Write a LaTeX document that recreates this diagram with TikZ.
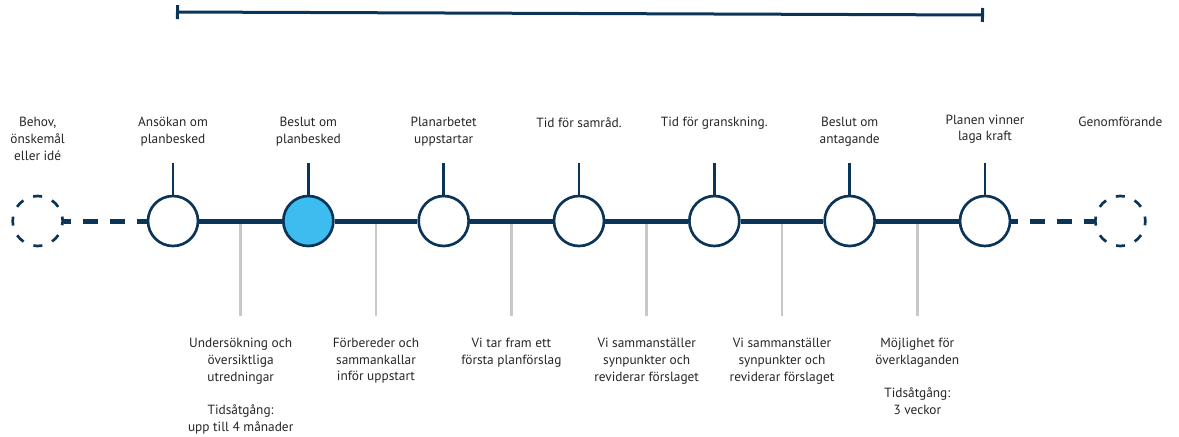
\documentclass[tikz,border=0pt]{standalone}
\usepackage{fontspec}
\setmainfont{PT Sans}
\usetikzlibrary{calc}
\usetikzlibrary{positioning}
\usetikzlibrary{arrows.meta}
\definecolor{navy}{HTML}{0B3558}
\definecolor{skyblue}{HTML}{3DBCEF}
\definecolor{tickgrey}{HTML}{C8C8C8}
\definecolor{textgrey}{HTML}{262626}

\begin{document}
\begin{tikzpicture}[x=0.75pt,y=-0.75pt,node distance=101.5pt,
    milestone/.style={circle,draw=navy,line width=2pt,fill=white,minimum size=37.5pt,inner sep=0pt},
    openend/.style={milestone,dash pattern=on 6.75pt off 7.98pt,dash phase=3.4pt},
    toplabel/.style={anchor=north,align=center,inner sep=0pt,text=textgrey,font=\fontsize{10}{12.5}\selectfont},
    botlabel/.style={toplabel},
    mainline/.style={draw=navy,line width=3.75pt},
    dashline/.style={mainline,dash pattern=on 11.25pt off 9pt,dash phase=6pt},
    tick/.style={draw=navy,line width=2pt},
    greytick/.style={draw=tickgrey,line width=1.9pt},
    span/.style={draw=navy,line width=2.25pt,arrows={Bar[width=10.5pt]-Bar[width=10.5pt]}}]
      \useasboundingbox (0,0) rectangle (1179,436);
      \coordinate (TOP) at (0,117);
      \coordinate (TK) at (0,163);
      \coordinate (GT) at (0,316);
      \coordinate (BOT) at (0,338);
      \coordinate (SL) at (176,12);
      \coordinate (SR) at (984,15);

      % milestones
      \node (AN) [milestone] at (173,221) {};
      \node (DL) [openend,left of=AN] {};
      \node (BP) [milestone,fill=skyblue,right of=AN] {};
      \node (PU) [milestone,right of=BP] {};
      \node (SA) [milestone,right of=PU] {};
      \node (GR) [milestone,right of=SA] {};
      \node (AT) [milestone,right of=GR] {};
      \node (PK) [milestone,right of=AT] {};
      \node (DR) [openend,right of=PK] {};

      \coordinate (M1) at ($(AN)!.5!(BP)$);
      \coordinate (M2) at ($(BP)!.5!(PU)$);
      \coordinate (M3) at ($(PU)!.5!(SA)$);
      \coordinate (M4) at ($(SA)!.5!(GR)$);
      \coordinate (M5) at ($(GR)!.5!(AT)$);
      \coordinate (M6) at ($(AT)!.5!(PK)$);

      \draw[greytick] (M1) -- (M1 |- GT);
      \draw[greytick] (M2) -- (M2 |- GT);
      \draw[greytick] (M3) -- (M3 |- GT);
      \draw[greytick] (M4) -- (M4 |- GT);
      \draw[greytick] (M5) -- (M5 |- GT);
      \draw[greytick] (M6) -- (M6 |- GT);

      \draw[dashline] (DL) -- (AN);
      \draw[mainline] (AN) -- (BP) (BP) -- (PU) (PU) -- (SA) (SA) -- (GR) (GR) -- (AT) (AT) -- (PK);
      \draw[dashline] (PK) -- (DR);

      \draw[tick] (AN) -- (AN |- TK);
      \draw[tick] (BP) -- (BP |- TK);
      \draw[tick] (PU) -- (PU |- TK);
      \draw[tick] (SA) -- (SA |- TK);
      \draw[tick] (GR) -- (GR |- TK);
      \draw[tick] (AT) -- (AT |- TK);
      \draw[tick] (PK) -- (PK |- TK);

      \draw[span] (SL) -- (SR);

      % labels above
      \node (DLL) [toplabel] at (DL |- TOP) {Behov,\\önskemål\\eller idé};
      \node (ANL) [toplabel] at (AN |- TOP) {Ansökan om\\planbesked};
      \node (BPL) [toplabel] at (BP |- TOP) {Beslut om\\planbesked};
      \node (PUL) [toplabel] at (PU |- TOP) {Planarbetet\\uppstartar};
      \node (SAL) [toplabel] at (SA |- TOP) {Tid för samråd.};
      \node (GRL) [toplabel] at (GR |- TOP) {Tid för granskning.};
      \node (ATL) [toplabel] at (AT |- TOP) {Beslut om\\antagande};
      \node (PKL) [toplabel,yshift=2pt] at (PK |- TOP) {Planen vinner\\laga kraft};
      \node (DRL) [toplabel] at (DR |- TOP) {Genomförande};

      % labels below
      \node (M1L) [botlabel] at (M1 |- BOT) {Undersökning och\\översiktliga\\utredningar\\[12.5pt]Tidsåtgång:\\upp till 4 månader};
      \node (M2L) [botlabel] at (M2 |- BOT) {Förbereder och\\sammankallar\\inför uppstart};
      \node (M3L) [botlabel] at (M3 |- BOT) {Vi tar fram ett\\första planförslag};
      \node (M4L) [botlabel] at (M4 |- BOT) {Vi sammanställer\\synpunkter och\\reviderar förslaget};
      \node (M5L) [botlabel] at (M5 |- BOT) {Vi sammanställer\\synpunkter och\\reviderar förslaget};
      \node (M6L) [botlabel] at (M6 |- BOT) {Möjlighet för\\överklaganden\\[12.5pt]Tidsåtgång:\\3 veckor};
      %\draw[span,red] (AN |- SL) -- (PK |- SR);
    \end{tikzpicture}
\end{document}
